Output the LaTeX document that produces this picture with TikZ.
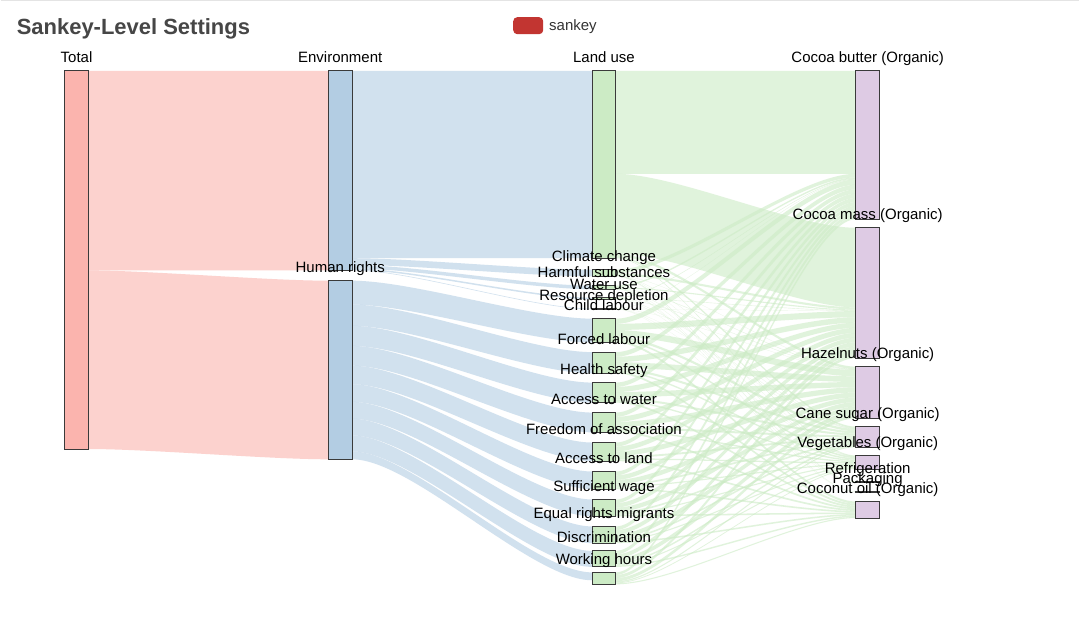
\documentclass[tikz,border=0pt]{standalone}
\usepackage{fontspec}
\setmainfont{Liberation Sans}
\usetikzlibrary{calc}
\pgfdeclarelayer{back}
\pgfdeclarelayer{flows}
\pgfsetlayers{back,flows,main}
\definecolor{cTot}{HTML}{FBB4AE}
\definecolor{cLvA}{HTML}{B3CDE3}
\definecolor{cLvB}{HTML}{CCEBC5}
\definecolor{cLvC}{HTML}{DECBE4}
\definecolor{cEdge}{HTML}{3A3A3A}
\definecolor{cTitle}{HTML}{464646}
\definecolor{cLeg}{HTML}{C23531}
\definecolor{cLegTxt}{HTML}{333333}
\definecolor{cTopLine}{HTML}{E4E4E4}
\newcommand\sknode[5]{%
  \node[#1, minimum height=#5pt] (#2) at (#3,#4) {};
  \expandafter\gdef\csname so@#2\endcsname{0}%
  \expandafter\gdef\csname ti@#2\endcsname{0}%
}
\newcommand\flow[4]{%
  \pgfmathsetmacro\skSO{\csname so@#1\endcsname}%
  \pgfmathsetmacro\skTI{\csname ti@#2\endcsname}%
  \pgfmathsetmacro\skW{#3}%
  \fill[#4] let \p1=([yshift=-\skSO pt]#1.north east),
                \p2=([yshift=-\skTI pt]#2.north west),
                \p3=($(\p1)!0.25!(\p2)$),
                \p4=($(\p1)!0.75!(\p2)$) in
    (\p1) .. controls (\x3,\y1) and (\x4,\y2) .. (\p2)
    -- (\x2,\y2-\skW pt) .. controls (\x4,\y2-\skW pt) and (\x3,\y1-\skW pt) .. (\x1,\y1-\skW pt) -- cycle;
  \pgfmathsetmacro\skA{\skSO+\skW}\expandafter\xdef\csname so@#1\endcsname{\skA}%
  \pgfmathsetmacro\skB{\skTI+\skW}\expandafter\xdef\csname ti@#2\endcsname{\skB}%
}
\newcommand\hrout[2]{%
  \flow{#1}{CB}{#2*0.2172}{lnkC}%
  \flow{#1}{CM}{#2*0.2573}{lnkC}%
  \flow{#1}{HZ}{#2*0.2650}{lnkC}%
  \flow{#1}{CS}{#2*0.1007}{lnkC}%
  \flow{#1}{VG}{#2*0.0688}{lnkC}%
  \flow{#1}{CO}{#2*0.0910}{lnkC}%
}
\tikzset{
  boxbase/.style={draw=cEdge, line width=0.9pt, inner sep=0pt, outer sep=0pt,
    minimum width=24pt, anchor=north west},
  boxT/.style={boxbase, fill=cTot},
  boxA/.style={boxbase, fill=cLvA},
  boxB/.style={boxbase, fill=cLvB},
  boxC/.style={boxbase, fill=cLvC},
  lnkA/.style={fill=cTot, fill opacity=0.6},
  lnkB/.style={fill=cLvA, fill opacity=0.6},
  lnkC/.style={fill=cLvB, fill opacity=0.6},
  lbl/.style={font=\fontsize{15}{18}\selectfont, text=black, anchor=base, inner sep=0pt},
}
\begin{document}
\begin{tikzpicture}[x=1pt, y=-1pt]
\begin{pgfonlayer}{back}
\fill[white] (0,0) rectangle (1080,633);
\draw[cTopLine, line width=1.2pt] (0,0.6) -- (1080,0.6);
\end{pgfonlayer}
\path[use as bounding box] (0,0) rectangle (1080,633);

% title and legend
\node[anchor=base west, inner sep=0pt, text=cTitle, font=\bfseries\fontsize{22}{26}\selectfont] (title) at (16,35) {Sankey-Level Settings};
\node[fill=cLeg, rounded corners=4pt, minimum width=30pt, minimum height=17pt, inner sep=0pt, anchor=north west] (legicon) at (513,17) {};
\node[anchor=base west, inner sep=0pt, text=cLegTxt, font=\fontsize{15}{18}\selectfont] (legtxt) at (549,31) {sankey};

% nodes
\sknode{boxT}{Tot}{64}{71}{378.5}
\sknode{boxA}{Env}{328}{71}{199.7}
\sknode{boxA}{HR}{328}{281}{178.8}
\sknode{boxB}{LU}{592}{71}{187.5}
\sknode{boxB}{CC}{592}{270}{6.6}
\sknode{boxB}{HS}{592}{286}{3.5}
\sknode{boxB}{WU}{592}{298}{1.5}
\sknode{boxB}{RD}{592}{309}{0.6}
\sknode{boxB}{CL}{592}{319}{23.9}
\sknode{boxB}{FL}{592}{352.5}{21.3}
\sknode{boxB}{HSf}{592}{383}{20.1}
\sknode{boxB}{AW}{592}{413}{19.8}
\sknode{boxB}{FA}{592}{443}{18.6}
\sknode{boxB}{AL}{592}{472}{17.6}
\sknode{boxB}{SW}{592}{500}{16.9}
\sknode{boxB}{ER}{592}{527}{16.7}
\sknode{boxB}{DI}{592}{551.5}{16}
\sknode{boxB}{WH}{592}{573}{12}
\sknode{boxC}{CB}{856}{71}{148.5}
\sknode{boxC}{CM}{856}{228}{130.8}
\sknode{boxC}{HZ}{856}{367}{51.9}
\sknode{boxC}{CS}{856}{427}{20.8}
\sknode{boxC}{VG}{856}{456}{13.5}
\sknode{boxC}{RF}{856}{482}{1.2}
\sknode{boxC}{PK}{856}{492}{1}
\sknode{boxC}{CO}{856}{502}{16.6}

% flows
\begin{pgfonlayer}{flows}
\flow{Tot}{Env}{199.7}{lnkA}
\flow{Tot}{HR}{178.8}{lnkA}
\flow{Env}{LU}{187.5}{lnkB}
\flow{Env}{CC}{6.6}{lnkB}
\flow{Env}{HS}{3.5}{lnkB}
\flow{Env}{WU}{1.5}{lnkB}
\flow{Env}{RD}{0.6}{lnkB}
\flow{HR}{CL}{23.9}{lnkB}
\flow{HR}{FL}{21.3}{lnkB}
\flow{HR}{HSf}{20.1}{lnkB}
\flow{HR}{AW}{19.8}{lnkB}
\flow{HR}{FA}{18.6}{lnkB}
\flow{HR}{AL}{17.6}{lnkB}
\flow{HR}{SW}{16.9}{lnkB}
\flow{HR}{ER}{16.7}{lnkB}
\flow{HR}{DI}{16}{lnkB}
\flow{HR}{WH}{7.9}{lnkB}
\flow{LU}{CB}{103}{lnkC}
\flow{LU}{CM}{79.7}{lnkC}
\flow{LU}{HZ}{2.5}{lnkC}
\flow{LU}{CS}{1.7}{lnkC}
\flow{LU}{VG}{0.6}{lnkC}
\flow{CC}{CB}{3.6}{lnkC}
\flow{CC}{CM}{2.1}{lnkC}
\flow{CC}{HZ}{0.13}{lnkC}
\flow{CC}{CS}{0.18}{lnkC}
\flow{CC}{VG}{0.05}{lnkC}
\flow{CC}{RF}{0.4}{lnkC}
\flow{CC}{PK}{0.15}{lnkC}
\flow{HS}{CB}{1.5}{lnkC}
\flow{HS}{CM}{1.1}{lnkC}
\flow{HS}{HZ}{0.4}{lnkC}
\flow{HS}{CS}{0.2}{lnkC}
\flow{HS}{VG}{0.1}{lnkC}
\flow{HS}{RF}{0.1}{lnkC}
\flow{HS}{PK}{0.1}{lnkC}
\flow{WU}{CB}{0.5}{lnkC}
\flow{WU}{CM}{0.4}{lnkC}
\flow{WU}{HZ}{0.3}{lnkC}
\flow{WU}{CS}{0.2}{lnkC}
\flow{WU}{VG}{0.1}{lnkC}
\flow{RD}{CB}{0.2}{lnkC}
\flow{RD}{CM}{0.15}{lnkC}
\flow{RD}{HZ}{0.1}{lnkC}
\flow{RD}{CS}{0.05}{lnkC}
\flow{RD}{VG}{0.05}{lnkC}
\flow{RD}{RF}{0.05}{lnkC}
\hrout{CL}{23.9}
\hrout{FL}{21.3}
\hrout{HSf}{20.1}
\hrout{AW}{19.8}
\hrout{FA}{18.6}
\hrout{AL}{17.6}
\hrout{SW}{16.9}
\hrout{ER}{16.7}
\hrout{DI}{16}
\hrout{WH}{12}
\end{pgfonlayer}

% labels
\node[lbl] (tTot) at ([yshift=8pt]Tot.north) {Total};
\node[lbl] (tEnv) at ([yshift=8pt]Env.north) {Environment};
\node[lbl] (tHR) at ([yshift=8pt]HR.north) {Human rights};
\node[lbl] (tLU) at ([yshift=8pt]LU.north) {Land use};
\node[lbl] (tCC) at ([yshift=8pt]CC.north) {Climate change};
\node[lbl] (tHS) at ([yshift=8pt]HS.north) {Harmful substances};
\node[lbl] (tWU) at ([yshift=8pt]WU.north) {Water use};
\node[lbl] (tRD) at ([yshift=8pt]RD.north) {Resource depletion};
\node[lbl] (tCL) at ([yshift=8pt]CL.north) {Child labour};
\node[lbl] (tFL) at ([yshift=8pt]FL.north) {Forced labour};
\node[lbl] (tHSf) at ([yshift=8pt]HSf.north) {Health safety};
\node[lbl] (tAW) at ([yshift=8pt]AW.north) {Access to water};
\node[lbl] (tFA) at ([yshift=8pt]FA.north) {Freedom of association};
\node[lbl] (tAL) at ([yshift=8pt]AL.north) {Access to land};
\node[lbl] (tSW) at ([yshift=8pt]SW.north) {Sufficient wage};
\node[lbl] (tER) at ([yshift=8pt]ER.north) {Equal rights migrants};
\node[lbl] (tDI) at ([yshift=8pt]DI.north) {Discrimination};
\node[lbl] (tWH) at ([yshift=8pt]WH.north) {Working hours};
\node[lbl] (tCB) at ([yshift=8pt]CB.north) {Cocoa butter (Organic)};
\node[lbl] (tCM) at ([yshift=8pt]CM.north) {Cocoa mass (Organic)};
\node[lbl] (tHZ) at ([yshift=8pt]HZ.north) {Hazelnuts (Organic)};
\node[lbl] (tCS) at ([yshift=8pt]CS.north) {Cane sugar (Organic)};
\node[lbl] (tVG) at ([yshift=8pt]VG.north) {Vegetables (Organic)};
\node[lbl] (tRF) at ([yshift=8pt]RF.north) {Refrigeration};
\node[lbl] (tPK) at ([yshift=8pt]PK.north) {Packaging};
\node[lbl] (tCO) at ([yshift=8pt]CO.north) {Coconut oil (Organic)};
\end{tikzpicture}
\end{document}
